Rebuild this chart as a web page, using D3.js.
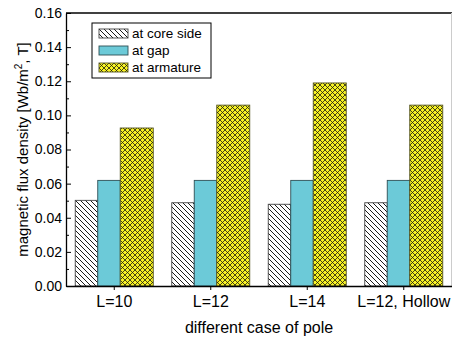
<!DOCTYPE html>
<html>
<head>
<meta charset="utf-8">
<script src="https://cdn.jsdelivr.net/npm/d3@7"></script>
<style>
  body { margin: 0; background: #fff; }
  text { font-family: "Liberation Sans", Arial, sans-serif; fill: #000; }
</style>
</head>
<body>
<svg id="chart"></svg>
<script>
// chart data
const categories = ["L=10", "L=12", "L=14", "L=12, Hollow"];
const seriesNames = ["at core side", "at gap", "at armature"];
const coreSide = [0.0502, 0.0488, 0.0479, 0.0488];
const atGap = [0.0619, 0.0619, 0.0619, 0.0619];
const atArmature = [0.0926, 0.106, 0.119, 0.106];
const yTicks = [0, 0.02, 0.04, 0.06, 0.08, 0.10, 0.12, 0.14, 0.16];
const yMinorTicks = [0.01, 0.03, 0.05, 0.07, 0.09, 0.11, 0.13, 0.15];

const width = 452;
const height = 338;
const plot = { left: 66, right: 452, top: 13, bottom: 286 };

const svg = d3.select("#chart").attr("width", width).attr("height", height);

// patterns
const defs = svg.append("defs");
const hatch = defs.append("pattern")
  .attr("id", "hatch")
  .attr("patternUnits", "userSpaceOnUse")
  .attr("width", 5).attr("height", 5);
hatch.append("rect").attr("width", 5).attr("height", 5).attr("fill", "#fff");
hatch.append("path")
  .attr("d", "M0,0L5,5M-1,4L1,6M4,-1L6,1")
  .attr("stroke", "#000").attr("stroke-width", 0.9);

const cross = defs.append("pattern")
  .attr("id", "cross")
  .attr("patternUnits", "userSpaceOnUse")
  .attr("width", 5).attr("height", 5);
cross.append("rect").attr("width", 5).attr("height", 5).attr("fill", "#f7f224");
cross.append("path")
  .attr("d", "M0,0L5,5M5,0L0,5")
  .attr("stroke", "#1a1a10").attr("stroke-width", 0.8);

const fills = ["url(#hatch)", "#6ccad8", "url(#cross)"];
const strokes = ["#444", "#2e4f55", "#555522"];
const barW = [22.5, 22.5, 33];

// scales
const x = d3.scaleBand()
  .domain(categories)
  .range([plot.left, plot.right])
  .padding(0);

const y = d3.scaleLinear()
  .domain([0, 0.16])
  .range([plot.bottom, plot.top]);

const series = [coreSide, atGap, atArmature];
const groupW = d3.sum(barW);

// bars
series.forEach((vals, s) => {
  const off = d3.sum(barW.slice(0, s)) - groupW / 2;
  svg.append("g")
    .selectAll("rect")
    .data(vals)
    .enter()
    .append("rect")
    .attr("x", (d, i) => x(categories[i]) + x.bandwidth() / 2 + off)
    .attr("y", (d) => y(d))
    .attr("width", barW[s])
    .attr("height", (d) => y(0) - y(d))
    .attr("fill", fills[s])
    .attr("stroke", strokes[s])
    .attr("stroke-width", 0.9);
});

// frame: top and right
svg.append("line")
  .attr("x1", plot.left).attr("x2", plot.right)
  .attr("y1", plot.top).attr("y2", plot.top)
  .attr("stroke", "#000").attr("stroke-width", 1.3);
svg.append("line")
  .attr("x1", 451.5).attr("x2", 451.5)
  .attr("y1", plot.top).attr("y2", plot.bottom)
  .attr("stroke", "#ccc").attr("stroke-width", 1);

// y axis
const yAxis = svg.append("g")
  .attr("transform", `translate(${plot.left},0)`)
  .call(d3.axisLeft(y)
    .tickValues(yTicks)
    .tickFormat(d3.format(".2f"))
    .tickSizeInner(-5)
    .tickSizeOuter(0)
    .tickPadding(4));
yAxis.selectAll("text").style("font-size", "14px");
yAxis.select(".domain").attr("stroke-width", 1.3);

svg.append("g")
  .attr("transform", `translate(${plot.left},0)`)
  .call(d3.axisLeft(y).tickValues(yMinorTicks).tickSize(-3).tickFormat(""))
  .call((g) => g.select(".domain").remove());

// x axis
const xAxis = svg.append("g")
  .attr("transform", `translate(0,${plot.bottom})`)
  .call(d3.axisBottom(x).tickSizeInner(4).tickSizeOuter(0).tickPadding(6));
xAxis.selectAll("text").style("font-size", "16px");
xAxis.select(".domain").attr("stroke-width", 1.3);

// axis titles
svg.append("text")
  .attr("x", (plot.left + plot.right) / 2)
  .attr("y", 333)
  .attr("text-anchor", "middle")
  .style("font-size", "16px")
  .text("different case of pole");

const yTitle = svg.append("text")
  .attr("transform", `translate(28,${(plot.top + plot.bottom) / 2}) rotate(-90)`)
  .attr("text-anchor", "middle")
  .style("font-size", "15px");
yTitle.append("tspan").text("magnetic flux density [Wb/m");
yTitle.append("tspan").attr("dy", -6).style("font-size", "10px").text("2");
yTitle.append("tspan").attr("dy", 6).text(", T]");

// legend
const legend = svg.append("g");
legend.append("rect")
  .attr("x", 92).attr("y", 23)
  .attr("width", 119).attr("height", 55)
  .attr("fill", "#fff")
  .attr("stroke", "#000").attr("stroke-width", 1);

const items = legend.selectAll(".item")
  .data(seriesNames)
  .enter()
  .append("g")
  .attr("class", "item")
  .attr("transform", (d, i) => `translate(99,${29 + i * 17})`);

items.append("rect")
  .attr("width", 29).attr("height", 9)
  .attr("fill", (d, i) => fills[i])
  .attr("stroke", (d, i) => strokes[i])
  .attr("stroke-width", 0.9);

items.append("text")
  .attr("x", 33).attr("y", 9)
  .style("font-size", "13.5px")
  .text((d) => d);
</script>
</body>
</html>
